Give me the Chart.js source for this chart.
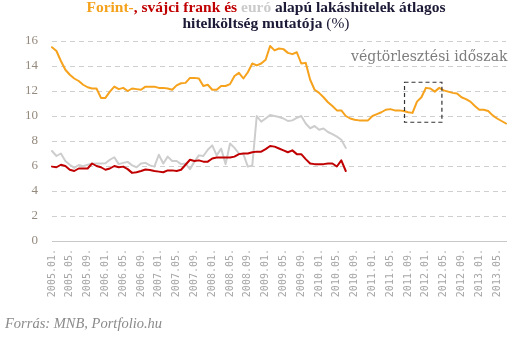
<!DOCTYPE html>
<html>
<head>
<meta charset="utf-8">
<script src="https://cdn.jsdelivr.net/npm/chart.js@4/dist/chart.umd.min.js"></script>
<style>
  html, body { margin: 0; padding: 0; background: #fff; }
  #wrap { position: relative; width: 526px; height: 337px; overflow: hidden; }
  #chart { position: absolute; left: 0; top: 0; }
  .title { position: absolute; left: 0; width: 532px; text-align: center;
           font-family: "Liberation Serif", serif; font-weight: bold; font-size: 15.5px;
           line-height: 16px; color: #1c1a36; white-space: nowrap; }
  .t1 { top: -1px; }
  .t2 { top: 14.5px; }
  .huf { color: #f4a21c; }
  .chf { color: #c00000; }
  .eur { color: #cbcbcb; }
  .norm { font-weight: normal; }
  .note { position: absolute; left: 351px; top: 48px; font-family: "DejaVu Serif", serif;
          font-size: 14px; line-height: 16px; color: #7d7d7d; white-space: nowrap; }
  .src { position: absolute; left: 5px; top: 315px; font-family: "Liberation Serif", serif;
         font-style: italic; font-size: 14.5px; line-height: 16px; color: #8a8a8a; white-space: nowrap; }
</style>
</head>
<body>
<div id="wrap">
  <canvas id="chart" width="526" height="337"></canvas>
  <div class="title t1"><span class="huf">Forint-</span><span class="chf">, svájci frank és</span> <span class="eur">euró</span> alapú lakáshitelek átlagos</div>
  <div class="title t2">hitelköltség mutatója <span class="norm">(%)</span></div>
  <div class="note">végtörlesztési időszak</div>
  <div class="src">Forrás: MNB, Portfolio.hu</div>
</div>
<script>
// Monthly categories, 2005.01. – 2013.07.
const firstYear = 2005;
const monthCount = 103;
const months = [];
for (let i = 0; i < monthCount; i++) {
  const y = firstYear + Math.floor(i / 12);
  const m = (i % 12) + 1;
  months.push(y + '.' + (m < 10 ? '0' + m : m) + '.');
}

// Forint-based loans (%)
const forint = [
  15.5, 15.2, 14.4, 13.7, 13.3, 13.0, 12.8, 12.5, 12.3, 12.2,
  12.2, 11.45, 11.45, 11.95, 12.35, 12.15, 12.25, 12.0, 12.2, 12.15,
  12.1, 12.35, 12.35, 12.35, 12.25, 12.25, 12.2, 12.1, 12.45, 12.62,
  12.65, 13.05, 13.05, 13.0, 12.4, 12.5, 12.1, 12.1, 12.4, 12.4,
  12.55, 13.2, 13.45, 13.0, 13.5, 14.2, 14.05, 14.2, 14.5, 15.6,
  15.25, 15.4, 15.35, 15.05, 14.95, 15.1, 14.2, 14.25, 12.9, 12.1,
  11.85, 11.5, 11.1, 10.8, 10.45, 10.45, 10.0, 9.8, 9.7, 9.65,
  9.65, 9.65, 10.0, 10.15, 10.3, 10.5, 10.55, 10.45, 10.45, 10.4,
  10.3, 10.25, 11.15, 11.5, 12.25, 12.2, 11.95, 12.25, 12.05, 11.95,
  11.85, 11.8, 11.5, 11.35, 11.15, 10.8, 10.5, 10.5, 10.4, 10.05,
  9.8, 9.6, 9.4
];

// Swiss-franc-based loans (%)
const frank = [
  5.95, 5.9, 6.1, 6.0, 5.7, 5.6, 5.8, 5.8, 5.8, 6.2,
  6.0, 5.9, 5.7, 5.8, 6.0, 5.9, 5.95, 5.75, 5.45, 5.5,
  5.6, 5.72, 5.68, 5.6, 5.55, 5.5, 5.65, 5.65, 5.6, 5.7,
  6.1, 6.5, 6.4, 6.45, 6.35, 6.35, 6.6, 6.68, 6.68, 6.68,
  6.68, 6.75, 6.95, 7.0, 7.0, 7.1, 7.15, 7.15, 7.35, 7.6,
  7.55, 7.4, 7.25, 7.1, 7.25, 6.95, 6.95, 6.55, 6.2, 6.15,
  6.15, 6.15, 6.2, 6.2, 5.96, 6.45, 5.6
];

// Euro-based loans (%)
const euro = [
  7.2, 6.8, 7.0, 6.4, 6.1, 5.85, 6.08, 5.98, 6.1, 6.18,
  6.2, 6.2, 6.22, 6.5, 6.7, 6.15, 6.25, 6.33, 6.05, 5.9,
  6.2, 6.25, 6.05, 5.95, 6.9, 6.2, 6.75, 6.4, 6.4, 6.15,
  6.2, 5.75, 6.35, 6.85, 6.8, 7.3, 7.65, 6.85, 7.4, 6.15,
  7.8, 7.45, 7.0, 6.95, 5.95, 6.05, 10.0, 9.55, 9.8, 10.08,
  10.0, 9.92, 9.8, 9.6, 9.65, 9.85, 10.0, 9.4, 9.02, 9.2,
  8.9, 9.0, 8.72, 8.55, 8.35, 8.1, 7.45
];

// Early-repayment window, in category index / percent units
const repaymentWindow = { from: 79.2, to: 87.6, top: 12.7, bottom: 9.5 };

const windowBox = {
  id: 'windowBox',
  afterDatasetsDraw(chart) {
    const { ctx, scales: { x, y } } = chart;
    const x1 = x.getPixelForValue(repaymentWindow.from);
    const x2 = x.getPixelForValue(repaymentWindow.to);
    const y1 = y.getPixelForValue(repaymentWindow.top);
    const y2 = y.getPixelForValue(repaymentWindow.bottom);
    ctx.save();
    ctx.setLineDash([4, 3]);
    ctx.strokeStyle = '#333333';
    ctx.lineWidth = 1.2;
    ctx.strokeRect(x1, y1, x2 - x1, y2 - y1);
    ctx.restore();
  }
};

new Chart(document.getElementById('chart'), {
  type: 'line',
  data: {
    labels: months,
    datasets: [
      { label: 'Forint', data: forint, borderColor: '#f6a21d' },
      { label: 'Svájci frank', data: frank, borderColor: '#c00000' },
      { label: 'Euró', data: euro, borderColor: '#cdcdcd' }
    ]
  },
  options: {
    responsive: false,
    animation: false,
    layout: { padding: { top: 41, right: 14, left: 0, bottom: 0 } },
    plugins: { legend: { display: false }, tooltip: { enabled: false } },
    elements: {
      point: { radius: 0 },
      line: { borderWidth: 2, tension: 0, borderJoinStyle: 'round', borderCapStyle: 'round' }
    },
    scales: {
      x: {
        type: 'category',
        offset: false,
        grid: { display: false, drawTicks: false },
        border: { display: true, color: '#c8c8c8', width: 1 },
        ticks: {
          autoSkip: false,
          minRotation: 90,
          maxRotation: 90,
          padding: 8,
          color: '#a6a6a6',
          font: { family: 'DejaVu Sans Mono', size: 10 },
          callback: (v, i) => (i % 4 === 0 ? months[i] : '')
        },
        afterFit: s => { s.height = 96; }
      },
      y: {
        min: 0,
        max: 16,
        ticks: {
          stepSize: 2,
          padding: 14,
          color: '#958a7e',
          font: { family: 'Liberation Serif', size: 13 }
        },
        grid: { color: '#cfcfcf', drawTicks: false },
        border: { display: false, dash: [5, 4] },
        afterFit: s => { s.width = 52; }
      }
    }
  },
  plugins: [windowBox]
});
</script>
</body>
</html>
